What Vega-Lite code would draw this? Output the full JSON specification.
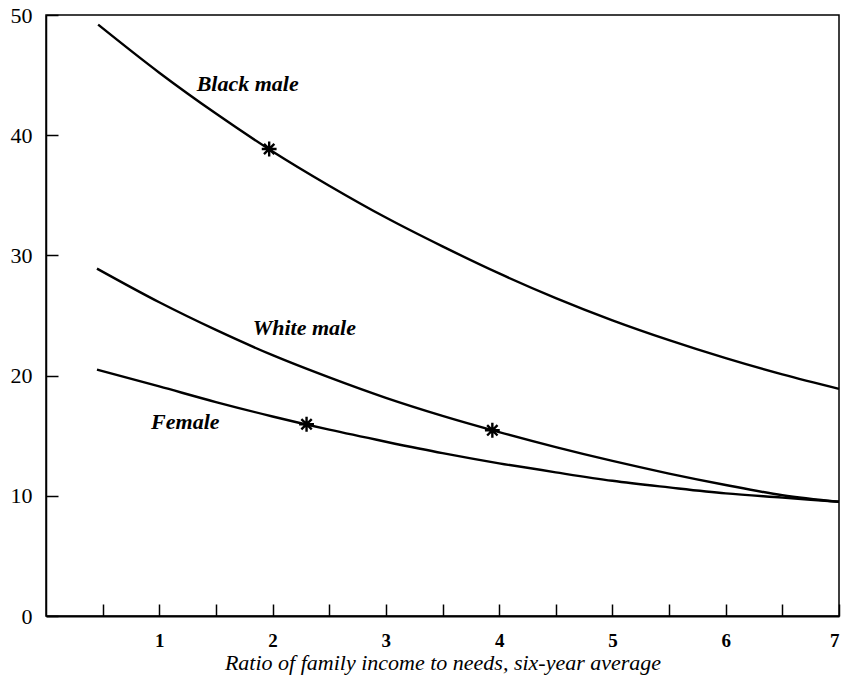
{
  "$schema": "https://vega.github.io/schema/vega-lite/v6.json",
  "width": 793,
  "height": 601,
  "autosize": "none",
  "padding": {"left": 46, "top": 15, "right": 9, "bottom": 64},
  "background": "white",
  "config": {
    "view": {"stroke": "black", "strokeWidth": 1.5},
    "font": "Liberation Serif"
  },
  "datasets": {
    "curves": [
      {"series": "Black male", "x": 0.46, "y": 49.2},
      {"series": "Black male", "x": 1.0, "y": 45.2},
      {"series": "Black male", "x": 1.5, "y": 41.8},
      {"series": "Black male", "x": 2.0, "y": 38.65},
      {"series": "Black male", "x": 2.5, "y": 35.8},
      {"series": "Black male", "x": 3.0, "y": 33.15},
      {"series": "Black male", "x": 3.5, "y": 30.75},
      {"series": "Black male", "x": 4.0, "y": 28.5},
      {"series": "Black male", "x": 4.5, "y": 26.45},
      {"series": "Black male", "x": 5.0, "y": 24.6},
      {"series": "Black male", "x": 5.5, "y": 22.95},
      {"series": "Black male", "x": 6.0, "y": 21.45},
      {"series": "Black male", "x": 6.5, "y": 20.1},
      {"series": "Black male", "x": 7.0, "y": 18.9},
      {"series": "White male", "x": 0.45, "y": 28.9},
      {"series": "White male", "x": 1.0, "y": 26.1},
      {"series": "White male", "x": 1.5, "y": 23.8},
      {"series": "White male", "x": 2.0, "y": 21.7},
      {"series": "White male", "x": 2.5, "y": 19.85},
      {"series": "White male", "x": 3.0, "y": 18.15},
      {"series": "White male", "x": 3.5, "y": 16.65},
      {"series": "White male", "x": 4.0, "y": 15.3},
      {"series": "White male", "x": 4.5, "y": 14.05},
      {"series": "White male", "x": 5.0, "y": 12.9},
      {"series": "White male", "x": 5.5, "y": 11.85},
      {"series": "White male", "x": 6.0, "y": 10.9},
      {"series": "White male", "x": 6.5, "y": 10.05},
      {"series": "White male", "x": 7.0, "y": 9.5},
      {"series": "Female", "x": 0.45, "y": 20.5},
      {"series": "Female", "x": 1.0, "y": 19.1},
      {"series": "Female", "x": 1.5, "y": 17.8},
      {"series": "Female", "x": 2.0, "y": 16.6},
      {"series": "Female", "x": 2.5, "y": 15.5},
      {"series": "Female", "x": 3.0, "y": 14.5},
      {"series": "Female", "x": 3.5, "y": 13.55},
      {"series": "Female", "x": 4.0, "y": 12.7},
      {"series": "Female", "x": 4.5, "y": 11.95},
      {"series": "Female", "x": 5.0, "y": 11.25},
      {"series": "Female", "x": 5.5, "y": 10.7},
      {"series": "Female", "x": 6.0, "y": 10.2},
      {"series": "Female", "x": 6.5, "y": 9.85},
      {"series": "Female", "x": 7.0, "y": 9.5}
    ],
    "stars": [
      {"series": "Black male", "x": 1.97, "y": 38.85},
      {"series": "Female", "x": 2.3, "y": 15.95},
      {"series": "White male", "x": 3.94, "y": 15.45}
    ],
    "labels": [
      {"label": "Black male", "x": 1.78, "y": 44.3},
      {"label": "White male", "x": 2.28, "y": 24.0},
      {"label": "Female", "x": 1.23, "y": 16.1}
    ]
  },
  "encoding": {
    "x": {
      "field": "x",
      "type": "quantitative",
      "scale": {"domain": [0, 7], "nice": false, "zero": false},
      "axis": {
        "values": [0.5, 1, 1.5, 2, 2.5, 3, 3.5, 4, 4.5, 5, 5.5, 6, 6.5, 7],
        "labelExpr": "datum.value % 1 === 0 ? format(datum.value, 'd') : ''",
        "grid": false,
        "domainColor": "black",
        "domainWidth": 2.2,
        "tickColor": "black",
        "tickWidth": 1.5,
        "tickSize": -12,
        "labelPadding": 36,
        "labelColor": "black",
        "labelFont": "Liberation Serif",
        "labelFontSize": 19,
        "labelFontWeight": "bold",
        "labelBaseline": "middle",
        "title": "Ratio of family income to needs, six-year average",
        "titleFont": "Liberation Serif",
        "titleFontSize": 22,
        "titleFontStyle": "italic",
        "titleFontWeight": "normal",
        "titleColor": "black",
        "titlePadding": 2
      }
    },
    "y": {
      "field": "y",
      "type": "quantitative",
      "scale": {"domain": [0, 50], "nice": false},
      "axis": {
        "values": [0, 10, 20, 30, 40, 50],
        "grid": false,
        "domainColor": "black",
        "domainWidth": 1.5,
        "tickColor": "black",
        "tickWidth": 1.5,
        "tickSize": -12,
        "labelPadding": 26,
        "labelColor": "black",
        "labelFont": "Liberation Serif",
        "labelFontSize": 22,
        "title": null
      }
    }
  },
  "layer": [
    {
      "data": {"name": "curves"},
      "mark": {"type": "line", "color": "black", "strokeWidth": 2.4, "interpolate": "monotone"},
      "encoding": {"detail": {"field": "series"}}
    },
    {
      "data": {"name": "stars"},
      "mark": {
        "type": "point",
        "shape": "M-1,0L1,0M0,-1L0,1M-0.7,-0.7L0.7,0.7M-0.7,0.7L0.7,-0.7",
        "filled": false,
        "color": "black",
        "strokeWidth": 2.4,
        "size": 220,
        "opacity": 1
      }
    },
    {
      "data": {"name": "labels"},
      "mark": {
        "type": "text",
        "font": "Liberation Serif",
        "fontSize": 22,
        "fontStyle": "italic",
        "fontWeight": "bold",
        "color": "black",
        "align": "center",
        "baseline": "middle"
      },
      "encoding": {"text": {"field": "label"}}
    }
  ]
}
